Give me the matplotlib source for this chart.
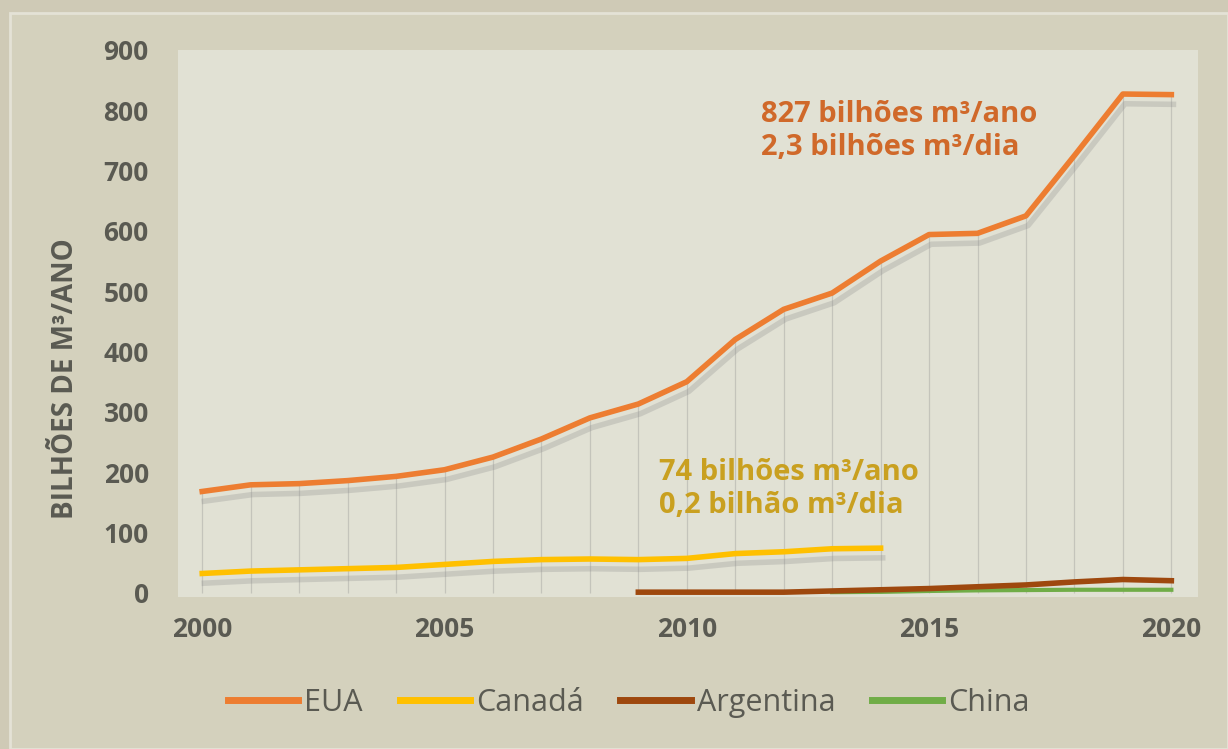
import matplotlib
matplotlib.use("Agg")
import matplotlib.pyplot as plt
import matplotlib.patheffects as pe
from matplotlib.patches import Rectangle

# dados
anos = list(range(2000, 2021))
eua = [168, 179, 181, 186, 193, 204, 225, 255, 290, 313, 350, 420, 470, 497, 550,
       594, 596, 625, 725, 827, 826]
anos_canada = list(range(2000, 2015))
canada = [32, 36, 38, 40, 42, 47, 52, 55, 56, 55, 57, 65, 68, 73, 74]
anos_argentina = list(range(2009, 2021))
argentina = [1, 1, 1, 1, 3, 5, 7, 10, 13, 18, 22, 20]
anos_china = list(range(2013, 2021))
china = [1, 1.5, 3, 4, 4.5, 5, 5, 5]

cor_fundo = "#cfcab6"
cor_painel = "#d4d1bd"
cor_plot = "#e1e1d4"
cor_texto = "#5a5a52"

plt.rcParams["font.family"] = ["Open Sans", "DejaVu Sans"]

fig = plt.figure(figsize=(12.28, 7.49), dpi=100)
fig.patch.set_facecolor(cor_fundo)
fig.patches.append(Rectangle((10 / 1228, 0), 1 - 10 / 1228, 1 - 13 / 749,
                             transform=fig.transFigure, facecolor=cor_painel,
                             edgecolor="#e4e2d6", linewidth=2, zorder=-10))

ax = fig.add_axes([178 / 1228, 1 - 597 / 749, (1198 - 178) / 1228, (597 - 50) / 749])
ax.set_facecolor(cor_plot)
ax.set_xlim(1999.5, 2020.55)
ax.set_ylim(-7, 900)

# linhas de queda
ax.vlines(anos, 0, eua, color="#c4c4bb", linewidth=0.9, zorder=1)

sombra = [pe.SimpleLineShadow(offset=(1.5, -7), shadow_color="#8c8c8c", alpha=0.28),
          pe.Normal()]
ax.plot(anos, eua, color="#ed7d31", linewidth=4, label="EUA", zorder=4, path_effects=sombra)
ax.plot(anos_canada, canada, color="#ffc000", linewidth=4, label="Canadá", zorder=4, path_effects=sombra)
ax.plot(anos_argentina, argentina, color="#9e480e", linewidth=4, label="Argentina", zorder=4)
ax.plot(anos_china, china, color="#70ad47", linewidth=3, label="China", zorder=3)

for s in ax.spines.values():
    s.set_visible(False)
ax.set_xticks([2000, 2005, 2010, 2015, 2020])
ax.set_yticks(range(0, 901, 100))
for lab in ax.get_xticklabels() + ax.get_yticklabels():
    lab.set_fontsize(19)
    lab.set_fontweight("bold")
    lab.set_color(cor_texto)
ax.tick_params(axis="y", length=0, pad=21)
ax.tick_params(axis="x", length=0, pad=14)

fig.text(66 / 1228, 1 - 379 / 749, "BILHÕES DE M³/ANO", rotation=90, ha="center", va="center",
         fontsize=20, fontweight="bold", color=cor_texto)

# anotações
ax.text(2011.53, 781, "827 bilhões m³/ano", color="#d0692a", fontsize=21,
        fontweight="bold", ha="left", va="baseline")
ax.text(2011.53, 726, "2,3 bilhões m³/dia", color="#d0692a", fontsize=21,
        fontweight="bold", ha="left", va="baseline")
ax.text(2009.43, 187, "74 bilhões m³/ano", color="#c9a020", fontsize=21,
        fontweight="bold", ha="left", va="baseline")
ax.text(2009.43, 133, "0,2 bilhão m³/dia", color="#c9a020", fontsize=21,
        fontweight="bold", ha="left", va="baseline")

leg = fig.legend(loc="center", bbox_to_anchor=(629 / 1228, 1 - 703 / 749), ncol=4, frameon=False,
                 fontsize=22, handlelength=2.3, handletextpad=0.2, columnspacing=1.2)
for t in leg.get_texts():
    t.set_color(cor_texto)
for l in leg.get_lines():
    l.set_linewidth(5)
    l.set_path_effects([])

fig.savefig("out.png", dpi=100, facecolor=fig.get_facecolor())
